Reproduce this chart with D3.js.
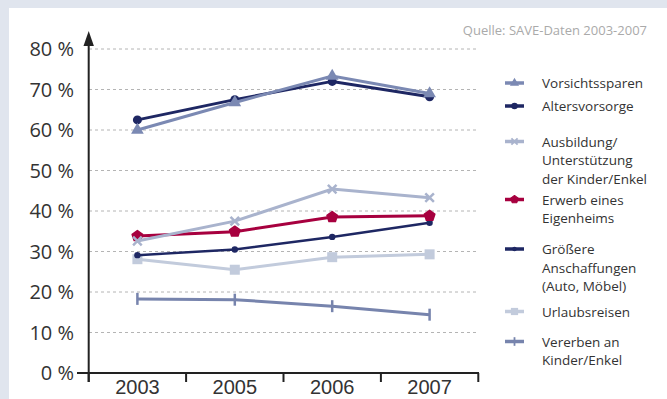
<!DOCTYPE html>
<html>
<head>
<meta charset="utf-8">
<script src="https://cdn.jsdelivr.net/npm/d3@7"></script>
<style>
  body { margin: 0; background: #e0e5ee; }
  svg { display: block; font-family: "Open Sans", "Noto Sans", sans-serif; }
</style>
</head>
<body>
<div id="chart"></div>
<script>
// Data
const years = ["2003", "2005", "2006", "2007"];
const yTicks = [0, 10, 20, 30, 40, 50, 60, 70, 80];
const seriesNames = [
    ["Vorsichtssparen"],
    ["Altersvorsorge"],
    ["Ausbildung/", "Unterstützung", "der Kinder/Enkel"],
    ["Erwerb eines", "Eigenheims"],
    ["Größere", "Anschaffungen", "(Auto, Möbel)"],
    ["Urlaubsreisen"],
    ["Vererben an", "Kinder/Enkel"]
];
const vorsichtssparen = [60, 66.8, 73.3, 69];
const altersvorsorge = [62.5, 67.5, 72, 68.2];
const ausbildung = [32.6, 37.5, 45.4, 43.3];
const eigenheim = [33.8, 34.9, 38.5, 38.8];
const anschaffungen = [29.1, 30.5, 33.6, 37.1];
const urlaub = [28.1, 25.5, 28.6, 29.3];
const vererben = [18.3, 18.1, 16.5, 14.4];

const series = [vorsichtssparen, altersvorsorge, ausbildung, eigenheim, anschaffungen, urlaub, vererben];
const colors = ["#7b89b3", "#1e2763", "#a9b3cd", "#a7003f", "#1e2763", "#c2cbdc", "#7784ad"];
const markers = ["triangle", "circle", "x", "pentagon", "smallcircle", "square", "bar"];

// SVG props
const width = 667, height = 399;
const svg = d3.select("#chart").append("svg")
    .attr("width", width)
    .attr("height", height);

// white panel
svg.append("rect")
    .attr("x", 9).attr("y", 8)
    .attr("width", width - 9).attr("height", height - 8)
    .attr("fill", "#fff");

const x = d3.scaleBand().domain(years).range([88.7, 478.3]);
const y = d3.scaleLinear().domain([0, 80]).range([373, 49]);

// grid
svg.append("g")
    .selectAll("line")
    .data(yTicks.filter(d => d > 0))
    .join("line")
    .attr("x1", 89).attr("x2", 478)
    .attr("y1", d => y(d)).attr("y2", d => y(d))
    .attr("stroke", "#b4b4b4")
    .attr("stroke-dasharray", "3,3");

// y labels
svg.append("g")
    .selectAll("text")
    .data(yTicks)
    .join("text")
    .attr("x", 74)
    .attr("y", d => y(d) + 7)
    .attr("text-anchor", "end")
    .attr("font-size", 20)
    .attr("fill", "#333")
    .text(d => d + " %");

// x axis
const xAxis = d3.axisBottom(x).tickSize(0).tickPadding(7);
const gx = svg.append("g")
    .attr("transform", `translate(0, ${y(0)})`)
    .call(xAxis);
gx.select(".domain").remove();
gx.selectAll("text").attr("font-size", 20).attr("fill", "#333").attr("font-family", "inherit");

svg.append("line")
    .attr("x1", 77).attr("x2", 479)
    .attr("y1", y(0)).attr("y2", y(0))
    .attr("stroke", "#222").attr("stroke-width", 2);
const bounds = [x.range()[0], ...years.slice(1).map(d => x(d)), x.range()[1]];
svg.append("g")
    .selectAll("line")
    .data(bounds)
    .join("line")
    .attr("x1", d => d).attr("x2", d => d)
    .attr("y1", y(0)).attr("y2", y(0) + 9)
    .attr("stroke", "#222").attr("stroke-width", 2);

// y axis with arrow
svg.append("line")
    .attr("x1", 88.7).attr("x2", 88.7)
    .attr("y1", 42).attr("y2", 382)
    .attr("stroke", "#222").attr("stroke-width", 2);
svg.append("path")
    .attr("d", "M88.7,31 L83.5,46 L93.9,46 Z")
    .attr("fill", "#222");

// markers, drawn around (0,0) inside a translated group
function drawMarker(parent, type, color, cx, cy, s) {
    const g = parent.append("g").attr("transform", `translate(${cx},${cy}) scale(${s})`);
    if (type === "triangle") {
        g.append("path").attr("d", d3.symbol(d3.symbolTriangle, 70)()).attr("fill", color);
    } else if (type === "circle") {
        g.append("circle").attr("r", 4.5).attr("fill", color);
    } else if (type === "smallcircle") {
        g.append("circle").attr("r", 3.2).attr("fill", color);
    } else if (type === "x") {
        g.append("path").attr("d", d3.symbol(d3.symbolX, 50)())
            .attr("stroke", color).attr("stroke-width", 2.5).attr("fill", "none");
    } else if (type === "pentagon") {
        const pts = d3.range(5).map(i => {
            const a = -Math.PI / 2 + i * 2 * Math.PI / 5;
            return [5.5 * Math.cos(a), 5.5 * Math.sin(a)];
        });
        g.append("path").attr("d", "M" + pts.join("L") + "Z")
            .attr("fill", color).attr("stroke", color).attr("stroke-linejoin", "round").attr("stroke-width", 1.5);
    } else if (type === "square") {
        g.append("rect").attr("x", -5).attr("y", -5)
            .attr("width", 10).attr("height", 10).attr("fill", color);
    } else if (type === "bar") {
        g.append("line").attr("y1", -6).attr("y2", 6)
            .attr("stroke", color).attr("stroke-width", 2.5);
    }
}

const line = d3.line()
    .x((d, i) => x(years[i]) + x.bandwidth() / 2)
    .y(d => y(d));

const order = [6, 5, 4, 3, 2, 1, 0];
order.forEach(k => {
    const g = svg.append("g");
    g.append("path")
        .attr("d", line(series[k]))
        .attr("fill", "none")
        .attr("stroke", colors[k])
        .attr("stroke-width", k === 4 ? 2.5 : 3);
    series[k].forEach((v, i) => drawMarker(g, markers[k], colors[k], x(years[i]) + x.bandwidth() / 2, y(v), 1));
});

// legend
const legendTop = [83, 106, 141.5, 199.5, 249, 311.5, 341.5];
const legend = svg.append("g");
seriesNames.forEach((lines, k) => {
    const cy = legendTop[k];
    legend.append("line")
        .attr("x1", 505).attr("x2", 524)
        .attr("y1", cy).attr("y2", cy)
        .attr("stroke", colors[k]).attr("stroke-width", 3.5);
    drawMarker(legend, markers[k], colors[k], 514.5, cy, 0.72);
    lines.forEach((t, j) => {
        legend.append("text")
            .attr("x", 542)
            .attr("y", cy + 5 + j * 18.5)
            .attr("font-size", 13.5)
            .attr("fill", "#333")
            .text(t);
    });
});

// source
svg.append("text")
    .attr("x", 647).attr("y", 35)
    .attr("text-anchor", "end")
    .attr("font-size", 13)
    .attr("fill", "#aaa")
    .text("Quelle: SAVE-Daten 2003-2007");
</script>
</body>
</html>
